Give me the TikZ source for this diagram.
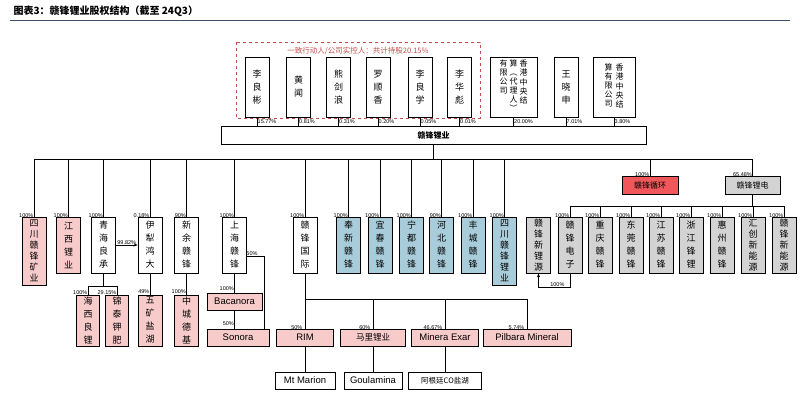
\documentclass[tikz,border=0pt]{standalone}
\usepackage{fontspec}
\setmainfont{Liberation Sans}
\newfontfamily\cjk{Noto Sans CJK SC}
\usetikzlibrary{arrows.meta,calc}
\definecolor{pinkbox}{HTML}{F8CBCB}
\definecolor{redbox}{HTML}{F0575A}
\definecolor{bluebox}{HTML}{A9CCDA}
\definecolor{graybox}{HTML}{D3D3D3}
\definecolor{dashred}{HTML}{C0504D}
\definecolor{rulecol}{HTML}{3B4F66}
\newcommand{\vcol}[1]{\begin{tabular}[t]{@{}c@{}}#1\end{tabular}}
\tikzset{
    vbox/.style={draw, semithick, fill=white, minimum width=24pt, minimum height=56pt,
        inner sep=0pt, align=center, font=\cjk\fontsize{9}{13}\selectfont},
    dense/.style={font=\cjk\fontsize{9}{11}\selectfont},
    hbox/.style={draw, semithick, fill=white, minimum height=17pt, inner sep=1pt,
        font=\fontsize{9.5}{11}\selectfont},
    pct/.style={font=\fontsize{5.5}{6}\selectfont, inner sep=0.5pt},
    pink/.style={fill=pinkbox, thick},
    blue/.style={fill=bluebox, thick},
    grey/.style={fill=graybox, thick}
}
\begin{document}
\begin{tikzpicture}[x=1pt, y=-1pt]
    \useasboundingbox (0,0) rectangle (800,402);

    % Title
    \node[anchor=west, font=\cjk\bfseries\fontsize{10}{12}\selectfont] (title) at (10,11) {图表3：赣锋锂业股权结构（截至 24Q3）};
    \draw[rulecol, semithick] (10,20) -- (790,20);

    % Concert parties
    \draw[dashred, dashed, thin] (236,42) rectangle (480,118);
    \node[dashred, font=\cjk\fontsize{7.5}{9}\selectfont] (concert) at (358,51) {一致行动人/公司实控人：共计持股20.15\%};

    % Shareholders
    \foreach \n/\x/\t in {s1/257/李\\良\\彬, s2/298.5/黄\\闻, s3/338.5/熊\\剑\\浪,
        s4/378/罗\\顺\\香, s5/420/李\\良\\学, s6/459.5/李\\华\\彪, s8/566/王\\晓\\申} {
        \node[vbox, minimum height=60pt] (\n) at (\x,87) {\t};
    }
    \node[vbox, minimum height=60pt, minimum width=47pt, font=\cjk\fontsize{8}{9}\selectfont] (s7) at (513.5,87)
        {\renewcommand\arraystretch{0.95}\vcol{有\\限\\公\\司}\hspace{2pt}\vcol{算\\︵\\代\\理\\人\\︶}\hspace{2pt}\vcol{香\\港\\中\\央\\结}};
    \node[vbox, minimum height=60pt, minimum width=42pt, font=\cjk\fontsize{8}{9}\selectfont] (s9) at (614,87)
        {\renewcommand\arraystretch{0.95}\vcol{算\\有\\限\\公\\司}\hspace{3pt}\vcol{香\\港\\中\\央\\结}};

    % Ganfeng Lithium
    \node[draw, semithick, minimum width=425pt, minimum height=18pt,
        font=\cjk\bfseries\fontsize{8}{9}\selectfont] (gf) at (433.5,135) {赣锋锂业};
    \foreach \n/\p in {s1/15.77\%, s2/0.81\%, s3/0.31\%, s4/0.20\%, s5/0.05\%,
        s6/0.01\%, s7/20.00\%, s8/7.01\%, s9/3.80\%} {
        \draw (\n.south) -- (\n |- gf.north);
        \node[pct, anchor=west] at ($(\n.south)!0.5!(\n |- gf.north)$) {\p};
    }

    % First level subsidiaries
    \node[vbox, dense, pink, minimum height=68pt] (a1) at (34,251) {四\\川\\赣\\锋\\矿\\业};
    \node[vbox, pink] (a2) at (68.5,245) {江\\西\\锂\\业};
    \node[vbox] (a3) at (103.5,245) {青\\海\\良\\承};
    \node[vbox] (a4) at (150,245) {伊\\犁\\鸿\\大};
    \node[vbox] (a5) at (186.5,245) {新\\余\\赣\\锋};
    \node[vbox] (a6) at (234.5,245) {上\\海\\赣\\锋};
    \node[vbox] (a7) at (305,245) {赣\\锋\\国\\际};
    \node[vbox, blue] (a8) at (348.5,245) {奉\\新\\赣\\锋};
    \node[vbox, blue] (a9) at (380,245) {宜\\春\\赣\\锋};
    \node[vbox, blue] (a10) at (411.5,245) {宁\\都\\赣\\锋};
    \node[vbox, blue] (a11) at (441.5,245) {河\\北\\赣\\锋};
    \node[vbox, blue] (a12) at (473,245) {丰\\城\\赣\\锋};
    \node[vbox, dense, blue, minimum height=68pt] (a13) at (504.5,251) {四\\川\\赣\\锋\\锂\\业};
    \node[draw, thick, fill=redbox, minimum width=56pt, minimum height=18pt,
        font=\cjk\fontsize{8}{9}\selectfont] (cycle) at (650,185) {赣锋循环};
    \node[draw, thick, fill=graybox, minimum width=55pt, minimum height=18pt,
        font=\cjk\fontsize{8}{9}\selectfont] (battery) at (752.5,185) {赣锋锂电};

    \draw (gf.south) -- (gf |- 0,159);
    \draw (a1.north |- 0,159) -- (battery.north |- 0,159);
    \foreach \n/\p in {a1/100\%, a2/100\%, a3/100\%, a4/0.18\%, a5/90\%, a6/100\%,
        a7/100\%, a8/100\%, a9/100\%, a10/100\%, a11/90\%, a12/100\%, a13/100\%,
        cycle/100\%, battery/65.48\%} {
        \draw (\n.north) -- (\n |- 0,159);
        \node[pct, anchor=south east] at ([yshift=-2pt]\n.north) {\p};
    }
    \draw[-{Stealth[length=4pt]}, semithick] (a3) -- node[pct, above] {99.82\%} (a4);

    % Second level
    \node[vbox, pink, minimum height=51pt, minimum width=23pt] (b1) at (88,320.5) {海\\西\\良\\锂};
    \node[vbox, pink, minimum height=51pt, minimum width=23pt] (b2) at (117,320.5) {锦\\泰\\钾\\肥};
    \node[vbox, pink, minimum height=51pt] (b3) at (150,320.5) {五\\矿\\盐\\湖};
    \node[vbox, pink, minimum height=51pt] (b4) at (186.5,320.5) {中\\城\\德\\基};
    \node[hbox, pink, minimum width=55pt] (bac) at (234.5,301.5) {Bacanora};
    \node[hbox, pink, minimum width=62pt] (son) at (238,337.5) {Sonora};
    \node[hbox, pink, minimum width=57pt] (rim) at (305,337.5) {RIM};
    \node[hbox, pink, minimum width=65pt, font=\cjk\fontsize{8.5}{10}\selectfont] (mali) at (373,337.5) {马里锂业};
    \node[hbox, pink, minimum width=67pt] (exar) at (445,337.5) {Minera Exar};
    \node[hbox, pink, minimum width=88pt] (pil) at (527,337.5) {Pilbara Mineral};

    \draw (a3.south) -- (a3 |- 0,286);
    \draw (b1 |- 0,286) -- (b2 |- 0,286);
    \draw (b1.north) -- (b1 |- 0,286);
    \draw (b2.north) -- (b2 |- 0,286);
    \node[pct, anchor=south east] at ([yshift=-1pt]b1.north) {100\%};
    \node[pct, anchor=south east] at ([yshift=-1pt]b2.north) {29.15\%};
    \draw (a4) -- node[pct, pos=0.85, left] {49\%} (b3);
    \draw (a5) -- node[pct, pos=0.85, left] {100\%} (b4);
    \draw (a6) -- node[pct, pos=0.8, left] {100\%} (bac);
    \draw (bac) -- node[pct, pos=0.7, left] {50\%} (bac |- son.north);
    \draw (a6.east |- 0,256) -| node[pct, pos=0.15, above] {50\%} (son.north -| 264,0);

    \draw (a7) -- (rim);
    \draw (a7 |- 0,299) -- (pil |- 0,299);
    \foreach \n/\p in {rim/50\%, mali/60\%, exar/46.67\%, pil/5.74\%} {
        \draw (\n.north) -- (\n |- 0,299);
        \node[pct, anchor=south east] at ([xshift=-2pt, yshift=-2pt]\n.north) {\p};
    }

    % Third level
    \node[hbox, minimum width=60pt] (mt) at (305,380.5) {Mt Marion};
    \node[hbox, minimum width=58pt] (gou) at (373,380.5) {Goulamina};
    \node[hbox, minimum width=73pt, font=\cjk\fontsize{7.5}{9}\selectfont] (cau) at (445,380.5) {阿根廷CO盐湖};
    \draw (rim) -- (mt);
    \draw (mali) -- (gou);
    \draw (exar) -- (cau);

    % Ganfeng LiEnergy subsidiaries
    \node[vbox, dense, grey] (c0) at (538.5,245) {赣\\锋\\新\\锂\\源};
    \foreach \n/\x/\t in {c1/570/赣\\锋\\电\\子, c2/600/重\\庆\\赣\\锋, c3/631/东\\莞\\赣\\锋,
        c4/661/江\\苏\\赣\\锋, c5/691/浙\\江\\锋\\锂, c6/722/惠\\州\\赣\\锋} {
        \node[vbox, grey] (\n) at (\x,245) {\t};
    }
    \node[vbox, dense, grey] (c7) at (753,245) {汇\\创\\新\\能\\源};
    \node[vbox, dense, grey] (c8) at (784,245) {赣\\锋\\新\\能\\源};
    \foreach \n in {c1,c2,c3,c4,c5,c6,c7,c8} {
        \draw (\n.north) -- (\n |- 0,206);
        \node[pct, anchor=south east] at ([yshift=-2pt]\n.north) {100\%};
    }
    \draw (battery) -- (battery |- 0,206);
    \draw (c1 |- 0,206) -- (c8 |- 0,206);
    \draw[-{Stealth[length=4pt]}] (c1.south) |- node[pct, pos=0.7, above] {100\%} (c0 |- 0,287) -- (c0.south);
\end{tikzpicture}
\end{document}
